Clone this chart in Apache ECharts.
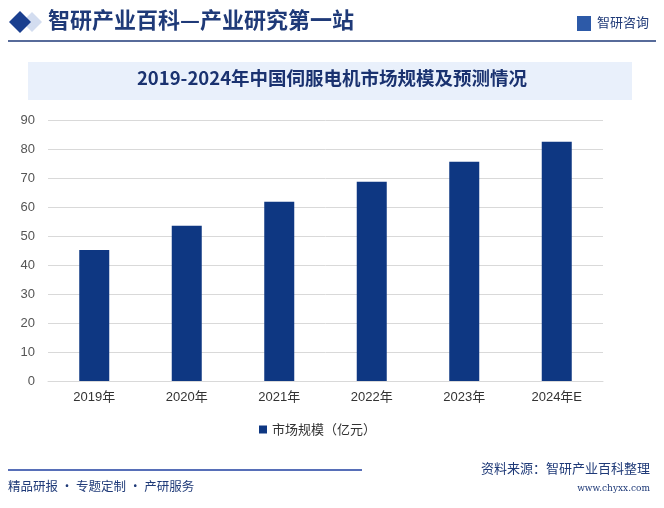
<!DOCTYPE html>
<html><head><meta charset="utf-8">
<script src="https://cdn.jsdelivr.net/npm/echarts@6/dist/echarts.min.js"></script>
<style>html,body{margin:0;padding:0;background:#fff}#c{width:664px;height:508px}</style>
</head><body><div id="c"></div>
<script>
const categories = ['2019年','2020年','2021年','2022年','2023年','2024年E'];
const marketSize = [45.2, 53.5, 61.8, 68.7, 75.6, 82.5];
const seriesName = '市场规模（亿元）';
const yTicks = {min:0, max:90, interval:10};

const navy = '#0e3782';
const chart = echarts.init(document.getElementById('c'), null, {renderer:'canvas'});
const font = '"Microsoft YaHei","Noto Sans CJK SC",sans-serif';
chart.setOption({
  backgroundColor:'#fff',
  animation:false,
  textStyle:{fontFamily:font},
  graphic:[
    {type:'polygon', shape:{points:[[22,22],[32,12],[42,22],[32,32]]}, style:{fill:'#d3ddf0'}},
    {type:'polygon', shape:{points:[[9,22],[20,11],[31,22],[20,33]]}, style:{fill:'#1a3f8f'}},
    {type:'text', left:48, top:9, style:{text:'智研产业百科—产业研究第一站', fill:'#1f3a78', font:'bold 22px "Noto Sans CJK SC",sans-serif'}},
    {type:'rect', shape:{x:577, y:16, width:14, height:15}, style:{fill:'#2d5aa8'}},
    {type:'text', left:597, top:16, style:{text:'智研咨询', fill:'#1f3a78', font:'13px "Noto Sans CJK SC",sans-serif'}},
    {type:'line', shape:{x1:8,y1:41,x2:656,y2:41}, style:{stroke:'#1f3a78', lineWidth:1.5}},
    {type:'rect', shape:{x:28, y:62, width:604, height:38}, style:{fill:'#e9f0fb'}},
    {type:'text', left:'center', top:69, style:{text:'2019-2024年中国伺服电机市场规模及预测情况', fill:'#1a3270', font:'bold 18.5px "Noto Sans CJK SC",sans-serif'}},
    {type:'line', shape:{x1:8,y1:470,x2:362,y2:470}, style:{stroke:'#1f3fa0', lineWidth:1.5}},
    {type:'text', right:14, top:462, style:{text:'资料来源：智研产业百科整理', fill:'#1f3a78', font:'13px "Noto Sans CJK SC",sans-serif'}},
    {type:'text', right:14, top:484, style:{text:'www.chyxx.com', fill:'#1f3a78', font:'9px "DejaVu Serif",serif'}},
    {type:'text', left:8, top:480, style:{text:'精品研报 · 专题定制 · 产研服务', fill:'#1f3a78', font:'12.5px "Noto Sans CJK SC",sans-serif'}}
  ],
  grid:{left:48, right:61, top:120, bottom:127},
  legend:{
    data:[seriesName], left:254, top:418, itemWidth:8, itemHeight:8, icon:'rect',
    textStyle:{fontSize:13, color:'#333', fontFamily:font}
  },
  xAxis:{
    type:'category', data:categories,
    axisLine:{lineStyle:{color:'#d9d9d9'}}, axisTick:{show:false},
    axisLabel:{fontSize:13, color:'#333', margin:10, fontFamily:'"Liberation Sans","Noto Sans CJK SC",sans-serif'}
  },
  yAxis:{
    type:'value', min:yTicks.min, max:yTicks.max, interval:yTicks.interval,
    axisLine:{show:false}, axisTick:{show:false},
    splitLine:{lineStyle:{color:'#d9d9d9'}},
    axisLabel:{fontSize:13, color:'#555', margin:13, fontFamily:'"Liberation Sans",sans-serif'}
  },
  series:[{
    name:seriesName, type:'bar', data:marketSize, barWidth:30,
    itemStyle:{color:navy}
  }]
});
</script></body></html>
